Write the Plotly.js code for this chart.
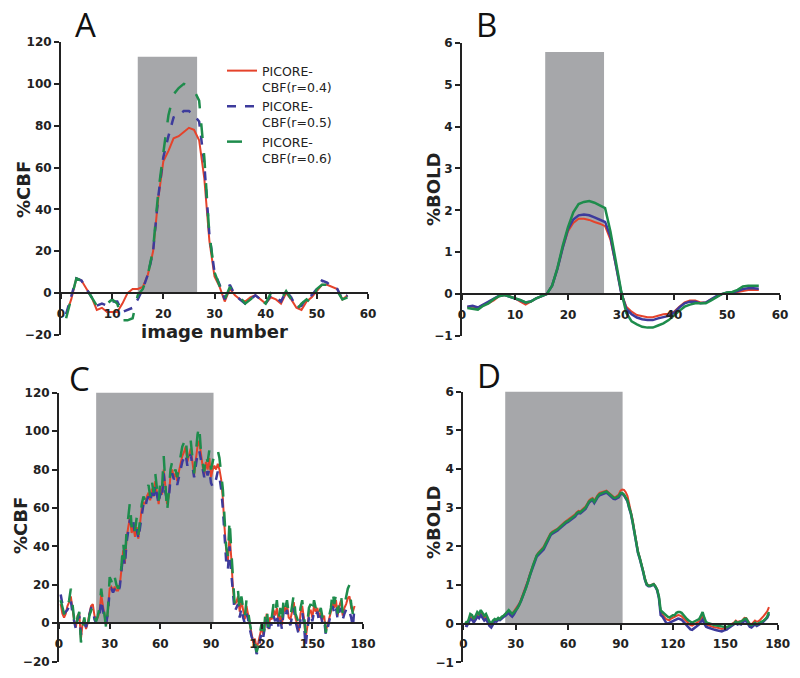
<!DOCTYPE html>
<html>
<head>
<meta charset="utf-8">
<script src="https://cdn.plot.ly/plotly-3.0.1.min.js"></script>
<style>
    html, body { margin: 0; padding: 0; background: #ffffff; }
    #chart { width: 800px; height: 678px; }
</style>
</head>
<body>
<div id="chart"></div>
<script>
// values, one per image number (starting at 1)
let cbfA_r04 = [-10, -3, 7, 6, 2, -2, -8, -7, -9, -9, -9, -5, 0, 2, 2, 3, 9, 20, 45, 63, 68, 74, 75, 77, 79, 78, 73, 55, 25, 8,
    3, -4, 2, -1, -3, -4, -2, -1, -3, -5, -2, -3, -5, 0, -3, -7, -8, -4, -2, 1, 4, 4, 3, 2, -3, -1];
let cbfA_r05 = [-10, -2, 7, 6, 2, -2, -6, -5, -6, -4, -4, -9, -8, -7, -3, 2, 9, 20, 46, 65, 75, 84, 85, 87, 87, 85, 82, 62, 28, 10,
    4, -3, 4, -1, -3, -5, -3, -1, -3, -5, -1, -2, -4, 1, -2, -7, -6, -2, -1, 2, 6, 5, 3, 2, -3, -1];
let cbfA_r06 = [-12, -3, 7, 6, 2, -2, -6, -4, -5, -3, -5, -13, -13, -12, -1, 2, 9, 21, 48, 67, 85, 95, 98, 100, 99, 97, 92, 65, 28, 10,
    3, -3, 3, -1, -2, -5, -3, -1, -3, -5, 0, -1, -3, 1, -3, -8, -5, -3, -5, 2, 4, 4, 3, 1, -3, -2];

let boldB_r04 = [-0.3, -0.3, -0.32, -0.25, -0.22, -0.15, -0.05, -0.02, -0.05, -0.1, -0.18, -0.25, -0.18, -0.1, -0.05, 0, 0.2, 0.6, 1.1, 1.5,
    1.7, 1.8, 1.8, 1.77, 1.72, 1.68, 1.62, 1.3, 0.7, 0.05, -0.3, -0.42, -0.5, -0.53, -0.55, -0.55, -0.52, -0.48, -0.47, -0.42,
    -0.3, -0.2, -0.15, -0.15, -0.2, -0.2, -0.12, -0.05, 0, 0.03, 0.03, 0.05, 0.08, 0.1, 0.1, 0.1];
let boldB_r05 = [-0.3, -0.28, -0.32, -0.25, -0.2, -0.12, -0.04, -0.02, -0.06, -0.1, -0.15, -0.2, -0.17, -0.1, -0.05, 0, 0.2, 0.6, 1.1, 1.55,
    1.78, 1.88, 1.9, 1.88, 1.83, 1.78, 1.72, 1.38, 0.72, 0.05, -0.35, -0.48, -0.56, -0.6, -0.62, -0.62, -0.58, -0.55, -0.52, -0.45,
    -0.32, -0.22, -0.18, -0.18, -0.22, -0.2, -0.12, -0.05, 0, 0.03, 0.04, 0.07, 0.12, 0.14, 0.14, 0.13];
let boldB_r06 = [-0.33, -0.35, -0.37, -0.28, -0.22, -0.12, -0.05, -0.02, -0.06, -0.1, -0.14, -0.2, -0.18, -0.1, -0.05, 0, 0.2, 0.62, 1.15, 1.6,
    1.95, 2.15, 2.2, 2.22, 2.18, 2.12, 2.05, 1.5, 0.8, 0.1, -0.45, -0.65, -0.72, -0.78, -0.8, -0.8, -0.75, -0.7, -0.62, -0.5,
    -0.4, -0.3, -0.25, -0.22, -0.22, -0.22, -0.15, -0.08, 0, 0.04, 0.05, 0.1, 0.18, 0.2, 0.2, 0.2];

let cbfC_r04 = [10, 5, 3, 5, 9, 11, 14, 6, 1, -2, 4, 5, -8, 0, 2, -3, 0, 5, 9, 10, 4, 2, 3, 6, 15, 9, 3, -1, 7, 18,
    19, 17, 19, 17, 17, 20, 28, 38, 31, 44, 50, 55, 47, 50, 45, 50, 44, 52, 60, 63, 62, 66, 68, 64, 70, 66, 74, 68, 62, 70,
    67, 80, 70, 62, 66, 77, 80, 76, 78, 74, 79, 84, 87, 89, 92, 84, 88, 91, 84, 77, 85, 92, 95, 87, 82, 77, 84, 80, 86, 76,
    80, 82, 80, 83, 80, 75, 65, 50, 38, 32, 46, 34, 18, 10, 11, 14, 6, 12, 6, 2, 9, 4, -1, -6, -10, -8, -13, -10, -6, -2,
    -6, 1, 5, -3, 3, 2, 7, 4, 8, 1, 4, -1, 9, 6, 10, 3, 2, 6, 11, 3, 0, -4, 5, 9, 3, -8, -2, 5, 7, 3,
    9, 6, 8, 3, 6, 2, 4, -4, -1, 3, 6, 12, 8, 12, 4, 9, 12, 4, 8, 10, 13, 14, 8, 6, 9];
let cbfC_r05 = [15, 9, 5, 6, 7, 9, 12, 5, 0, -3, 2, 4, -6, -1, 0, -2, 1, 4, 8, 8, 2, 0, 2, 4, 12, 7, 2, 0, 6, 17,
    18, 16, 18, 16, 16, 19, 27, 36, 30, 42, 48, 54, 50, 53, 46, 49, 44, 50, 58, 62, 60, 64, 66, 63, 68, 64, 72, 67, 62, 68,
    65, 78, 68, 64, 65, 75, 78, 75, 76, 72, 76, 80, 84, 86, 88, 82, 85, 88, 82, 76, 82, 88, 90, 85, 80, 76, 80, 77, 80, 73,
    71, 72, 75, 79, 76, 70, 60, 45, 32, 28, 40, 26, 14, 6, 8, 10, 3, 8, 3, 0, 5, 2, -3, -7, -9, -10, -16, -14, -9, -4,
    -7, -1, 2, -5, 0, -1, 4, 1, 5, -2, 2, -3, 6, 3, 7, 1, -1, 4, 8, 1, -3, -6, 2, 6, 0, -12, -4, 3, 5, 1,
    6, 4, 6, 1, 4, 0, 2, -6, -3, 1, 4, 9, 5, 8, 2, 6, 8, 2, 5, 7, 8, 6, 3, -2, 9];
let cbfC_r06 = [12, 8, 5, 4, 8, 12, 18, 8, 2, -3, 3, 6, -10, -2, 3, -4, -2, 4, 7, 9, 3, 1, 4, 8, 18, 10, 4, -3, 8, 24,
    22, 19, 24, 20, 18, 22, 30, 42, 32, 48, 55, 63, 50, 54, 48, 55, 46, 55, 62, 66, 64, 70, 72, 66, 74, 68, 78, 70, 63, 74,
    70, 87, 72, 58, 68, 80, 84, 78, 80, 76, 82, 88, 92, 94, 97, 86, 91, 95, 86, 78, 88, 98, 103, 90, 84, 79, 88, 84, 90, 80,
    84, 88, 87, 90, 86, 79, 70, 55, 40, 35, 54, 38, 20, 10, 12, 17, 6, 14, 8, 3, 12, 5, 0, -5, -8, -10, -15, -12, -5, 0,
    -8, 3, 8, -2, 5, 3, 10, 5, 12, 2, 8, 0, 13, 8, 12, 5, 3, 10, 15, 5, 2, 0, 8, 12, 5, -5, 0, 8, 10, 5,
    12, 8, 10, 5, 8, 3, 6, -5, 0, 5, 8, 17, 10, 15, 5, 12, 15, 5, 10, 13, 18, 20, 10, 5, 8];

let boldD_r04 = [0.00, -0.02, 0.06, 0.18, 0.15, 0.08, 0.14, 0.22, 0.18, 0.28, 0.20, 0.14, 0.18, 0.08, 0.00, -0.04, 0.05, 0.10, 0.08, 0.13,
    0.12, 0.17, 0.20, 0.24, 0.30, 0.33, 0.28, 0.26, 0.32, 0.38, 0.44, 0.52, 0.62, 0.74, 0.86, 0.96, 1.12, 1.27, 1.40, 1.54,
    1.67, 1.77, 1.84, 1.89, 1.93, 1.99, 2.08, 2.18, 2.28, 2.34, 2.38, 2.40, 2.44, 2.46, 2.50, 2.55, 2.59, 2.63, 2.66, 2.69,
    2.72, 2.75, 2.79, 2.83, 2.88, 2.92, 2.91, 2.95, 3.00, 3.03, 3.11, 3.19, 3.23, 3.25, 3.18, 3.27, 3.33, 3.38, 3.40, 3.41,
    3.44, 3.44, 3.40, 3.36, 3.32, 3.28, 3.27, 3.30, 3.34, 3.44, 3.47, 3.46, 3.40, 3.30, 3.10, 2.92, 2.68, 2.40, 2.10, 1.88,
    1.72, 1.57, 1.37, 1.17, 1.03, 0.99, 0.99, 1.01, 1.03, 0.97, 0.88, 0.68, 0.30, 0.24, 0.18, 0.12, 0.10, 0.09, 0.13, 0.15,
    0.16, 0.20, 0.22, 0.21, 0.19, 0.14, 0.10, 0.05, 0.00, -0.04, -0.05, -0.02, 0.01, 0.04, 0.06, 0.12, 0.18, 0.08, -0.02, -0.04,
    -0.06, -0.08, -0.08, -0.10, -0.10, -0.12, -0.13, -0.14, -0.12, -0.12, -0.10, -0.06, -0.02, 0.00, 0.03, 0.08, 0.04, 0.06, 0.05, 0.10,
    0.15, 0.14, 0.06, 0.00, -0.02, 0.03, 0.08, 0.05, 0.06, 0.10, 0.14, 0.20, 0.26, 0.32, 0.43];
let boldD_r05 = [-0.05, -0.06, 0.02, 0.12, 0.10, 0.03, 0.10, 0.18, 0.14, 0.22, 0.15, 0.08, 0.12, 0.02, -0.06, -0.10, 0.00, 0.06, 0.05, 0.10,
    0.09, 0.14, 0.17, 0.20, 0.25, 0.28, 0.22, 0.18, 0.24, 0.32, 0.40, 0.48, 0.58, 0.70, 0.82, 0.93, 1.08, 1.23, 1.36, 1.50,
    1.63, 1.73, 1.78, 1.83, 1.86, 1.92, 2.01, 2.12, 2.22, 2.29, 2.33, 2.35, 2.39, 2.41, 2.45, 2.49, 2.54, 2.58, 2.61, 2.63,
    2.66, 2.69, 2.73, 2.77, 2.83, 2.86, 2.85, 2.89, 2.94, 2.97, 3.05, 3.13, 3.17, 3.19, 3.12, 3.21, 3.27, 3.32, 3.34, 3.35,
    3.38, 3.39, 3.35, 3.31, 3.27, 3.23, 3.22, 3.24, 3.27, 3.35, 3.36, 3.32, 3.24, 3.16, 2.98, 2.83, 2.60, 2.33, 2.03, 1.83,
    1.68, 1.53, 1.33, 1.13, 1.00, 0.97, 0.97, 0.99, 1.01, 0.95, 0.86, 0.66, 0.22, 0.18, 0.10, 0.03, 0.00, 0.02, 0.06, 0.08,
    0.08, 0.12, 0.13, 0.12, 0.10, 0.05, 0.00, -0.05, -0.10, -0.15, -0.16, -0.12, -0.08, -0.05, -0.02, 0.05, 0.10, 0.00, -0.08, -0.10,
    -0.12, -0.14, -0.15, -0.16, -0.17, -0.18, -0.19, -0.20, -0.18, -0.17, -0.15, -0.11, -0.08, -0.06, -0.03, 0.02, -0.02, 0.00, -0.02, 0.03,
    0.08, 0.06, -0.02, -0.08, -0.10, -0.05, -0.02, -0.06, -0.04, 0.00, 0.02, 0.06, 0.10, 0.15, 0.25];
let boldD_r06 = [0.05, 0.02, 0.10, 0.25, 0.22, 0.12, 0.20, 0.30, 0.25, 0.35, 0.28, 0.20, 0.25, 0.15, 0.05, 0.00, 0.08, 0.12, 0.10, 0.15,
    0.12, 0.18, 0.20, 0.25, 0.30, 0.35, 0.30, 0.25, 0.30, 0.35, 0.40, 0.48, 0.58, 0.70, 0.82, 0.93, 1.10, 1.25, 1.38, 1.52,
    1.66, 1.76, 1.82, 1.87, 1.90, 1.96, 2.05, 2.15, 2.25, 2.32, 2.36, 2.38, 2.42, 2.44, 2.48, 2.52, 2.57, 2.61, 2.64, 2.66,
    2.69, 2.72, 2.76, 2.80, 2.86, 2.89, 2.88, 2.92, 2.97, 3.00, 3.08, 3.16, 3.20, 3.22, 3.15, 3.24, 3.30, 3.35, 3.37, 3.38,
    3.41, 3.42, 3.38, 3.34, 3.30, 3.26, 3.25, 3.27, 3.30, 3.38, 3.38, 3.34, 3.25, 3.18, 3.00, 2.85, 2.62, 2.35, 2.05, 1.85,
    1.70, 1.55, 1.35, 1.15, 1.02, 0.98, 0.98, 1.00, 1.02, 0.96, 0.88, 0.70, 0.35, 0.30, 0.26, 0.20, 0.18, 0.16, 0.20, 0.22,
    0.22, 0.28, 0.30, 0.30, 0.28, 0.22, 0.17, 0.12, 0.08, 0.04, 0.02, 0.05, 0.08, 0.10, 0.12, 0.20, 0.30, 0.15, 0.04, 0.02,
    0.00, -0.02, -0.03, -0.04, -0.05, -0.06, -0.08, -0.09, -0.08, -0.09, -0.09, -0.06, -0.04, -0.02, 0.00, 0.05, 0.02, 0.04, 0.04, 0.08,
    0.12, 0.13, 0.05, -0.02, -0.04, 0.00, 0.02, -0.02, 0.00, 0.03, 0.04, 0.08, 0.12, 0.18, 0.30];

// stimulus blocks (grey boxes): [start image, end image, top]
let blockA = [15, 26.6, 113];
let blockB = [15.7, 26.8, 5.78];
let blockC = [22, 91.5, 120.5];
let blockD = [24, 91.2, 6.05];

let seriesNames = ["PICORE-<br>CBF(r=0.4)", "PICORE-<br>CBF(r=0.5)", "PICORE-<br>CBF(r=0.6)"];
let seriesColors = ["#e5432b", "#3d3b9c", "#1e8c4c"];

function imageNumbers(n) {
    let nums = [];
    for (let i = 1; i <= n; i++) {
        nums.push(i);
    }
    return nums;
}

// panels laid out in pixels, converted to paper fractions below
let panels = [
    { key: "", x0: 61, x1: 368, y0: 42, y1: 335, xr: [0, 60], dx: 10, yr: [-20, 120], dy: 20, block: blockA,
      series: [cbfA_r04, cbfA_r05, cbfA_r06], dashes: ["solid", "dash", "longdash"], legend: true },
    { key: "2", x0: 462, x1: 780, y0: 42.7, y1: 336, xr: [0, 60], dx: 10, yr: [-1, 6], dy: 1, block: blockB,
      series: [boldB_r04, boldB_r05, boldB_r06], dashes: ["solid", "solid", "solid"], legend: false },
    { key: "3", x0: 59, x1: 363, y0: 392.7, y1: 661.7, xr: [0, 180], dx: 30, yr: [-20, 120], dy: 20, block: blockC,
      series: [cbfC_r04, cbfC_r05, cbfC_r06], dashes: ["solid", "dash", "longdash"], legend: false },
    { key: "4", x0: 463.3, x1: 777.7, y0: 391.7, y1: 662.3, xr: [0, 180], dx: 30, yr: [-1, 6], dy: 1, block: blockD,
      series: [boldD_r04, boldD_r05, boldD_r06], dashes: ["solid", "solid", "solid"], legend: false }
];

const W = 800, H = 678;
let px = (x) => x / W;
let py = (y) => 1 - y / H;

let data = [];
let layout = {
    width: W,
    height: H,
    margin: { l: 0, r: 0, t: 0, b: 0 },
    paper_bgcolor: "#ffffff",
    plot_bgcolor: "rgba(0,0,0,0)",
    showlegend: true,
    legend: {
        x: px(222), y: py(56), xanchor: "left", yanchor: "top",
        bgcolor: "rgba(0,0,0,0)",
        font: { family: "DejaVu Sans", size: 12.5, color: "#222" },
        valign: "top",
        tracegroupgap: 0,
        itemwidth: 30
    },
    shapes: [],
    annotations: []
};

let tickFont = { family: "DejaVu Sans", size: 12, color: "#222", weight: 700 };

panels.forEach((p) => {
    let xa = "xaxis" + p.key, ya = "yaxis" + p.key;
    let xref = "x" + p.key, yref = "y" + p.key;
    let yDom = [py(p.y1), py(p.y0)];
    // x axis sits on the zero line of the y scale
    let zeroPos = yDom[0] + (0 - p.yr[0]) / (p.yr[1] - p.yr[0]) * (yDom[1] - yDom[0]);

    layout[xa] = {
        domain: [px(p.x0), px(p.x1)],
        range: p.xr, dtick: p.dx, tick0: 0,
        anchor: "free", position: zeroPos,
        showline: true, linecolor: "#222", linewidth: 2,
        ticks: "outside", ticklen: 5, tickwidth: 2, tickcolor: "#222",
        ticklabelstandoff: 4,
        tickprefix: "<b>", ticksuffix: "</b>",
        showgrid: false, zeroline: false,
        tickfont: tickFont, fixedrange: true
    };
    layout[ya] = {
        domain: yDom,
        range: p.yr, dtick: p.dy, tick0: 0,
        anchor: xref,
        showline: true, linecolor: "#222", linewidth: 2,
        ticks: "outside", ticklen: 5, tickwidth: 2, tickcolor: "#222",
        tickprefix: "<b>", ticksuffix: "</b>",
        showgrid: false, zeroline: false,
        tickfont: tickFont, fixedrange: true
    };

    layout.shapes.push({
        type: "rect", xref: xref, yref: yref, layer: "below",
        x0: p.block[0], x1: p.block[1], y0: 0, y1: p.block[2],
        fillcolor: "#a6a7aa", line: { width: 0 }
    });

    for (let s = 0; s < 3; s++) {
        data.push({
            x: imageNumbers(p.series[s].length),
            y: p.series[s],
            xaxis: xref, yaxis: yref,
            type: "scatter", mode: "lines",
            name: seriesNames[s],
            showlegend: p.legend,
            line: { color: seriesColors[s], width: s == 0 ? 2 : 2.5, dash: p.dashes[s] },
            hoverinfo: "skip"
        });
    }
});

// panel letters
let letters = [["A", 85, 24], ["B", 486, 24], ["C", 79, 378], ["D", 489, 375]];
letters.forEach((l) => {
    layout.annotations.push({
        text: l[0], xref: "paper", yref: "paper", x: px(l[1]), y: py(l[2]),
        xanchor: "center", yanchor: "middle", showarrow: false,
        font: { family: "Open Sans", size: 33, color: "#111" }
    });
});

// axis titles
let titleFont = { family: "DejaVu Sans", size: 18, color: "#222", weight: "bold" };
let yTitles = [["%CBF", 23, 190], ["%BOLD", 433, 190], ["%CBF", 20, 526], ["%BOLD", 433, 523]];
yTitles.forEach((t) => {
    layout.annotations.push({
        text: t[0], xref: "paper", yref: "paper", x: px(t[1]), y: py(t[2]),
        xanchor: "center", yanchor: "middle", textangle: -90, showarrow: false,
        font: titleFont
    });
});
layout.annotations.push({
    text: "image number", xref: "paper", yref: "paper", x: px(214), y: py(331),
    xanchor: "center", yanchor: "middle", showarrow: false, font: titleFont
});

Plotly.newPlot("chart", data, layout, { displayModeBar: false, staticPlot: true });
</script>
</body>
</html>
